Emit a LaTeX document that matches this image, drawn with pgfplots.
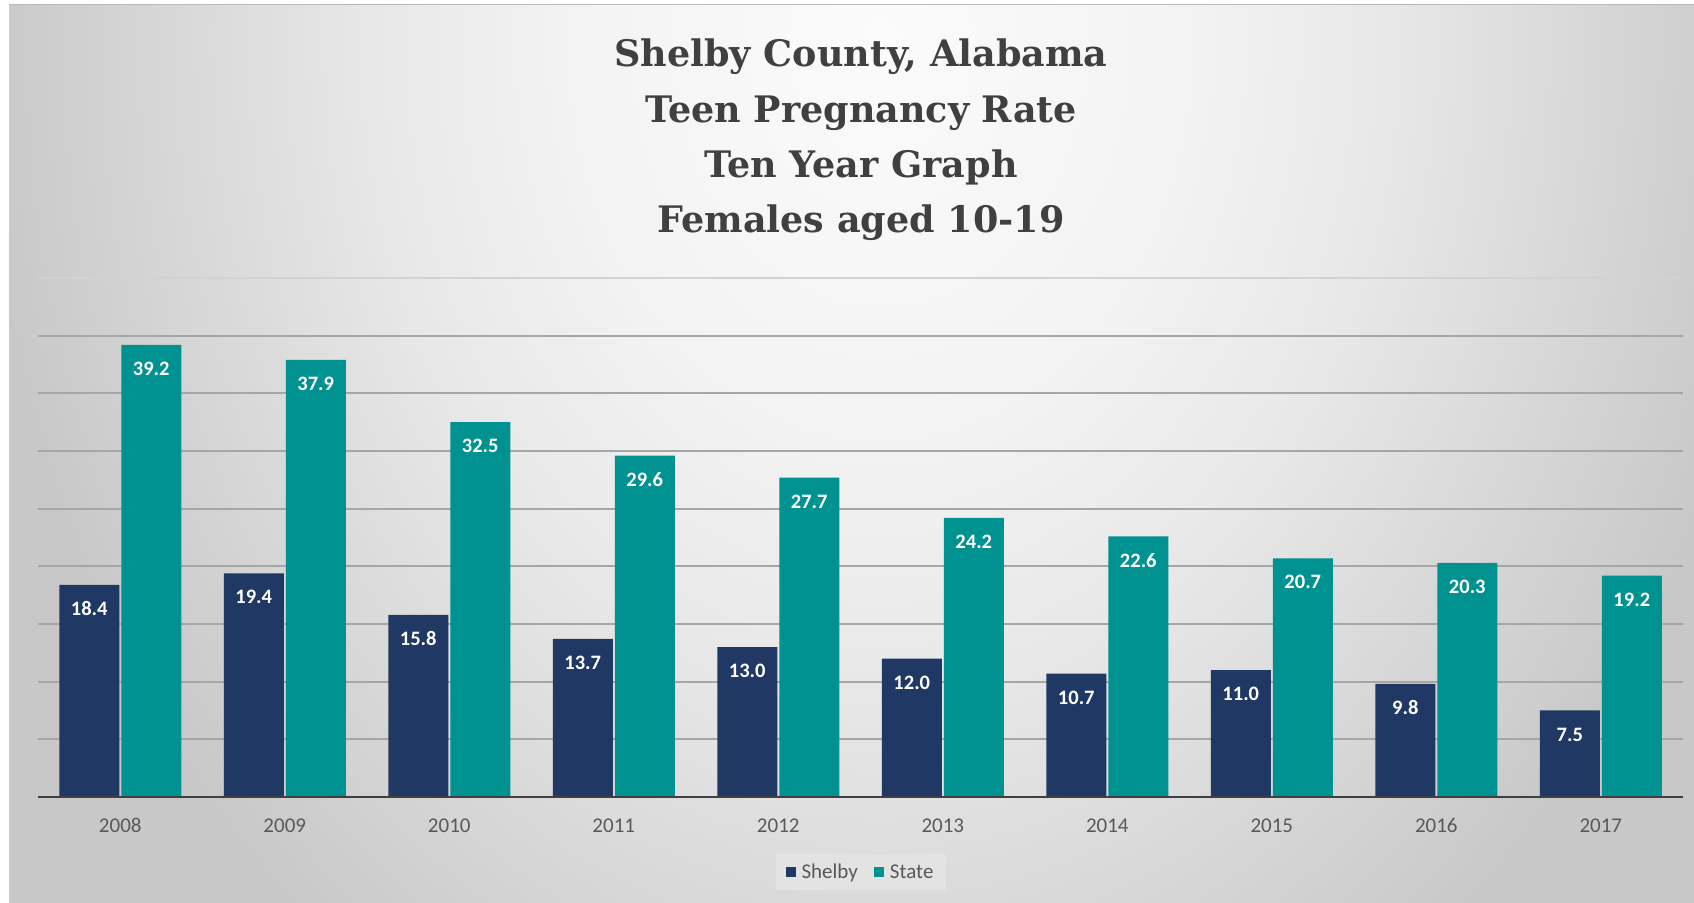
\documentclass[border=0pt]{standalone}
\usepackage{fontspec}
\setmainfont{Carlito}
\newfontfamily\titlefont{DejaVu Serif}
\usepackage{pgfplots}
\pgfplotsset{compat=1.18}

\definecolor{shelby}{HTML}{1F3864}
\definecolor{state}{HTML}{009191}
\definecolor{gridc}{HTML}{A6A6A6}
\definecolor{txt}{HTML}{595959}
\definecolor{ttl}{HTML}{404040}
\definecolor{bg0}{HTML}{FBFBFB}
\definecolor{bg1}{HTML}{F3F3F3}
\definecolor{bg2}{HTML}{E8E8E8}
\definecolor{bg3}{HTML}{C8C8C8}

% the inner 50bp square of a radial shading is fitted to the path
\pgfdeclareradialshading{bgshade}{\pgfpoint{0bp}{0bp}}{%
  color(0bp)=(bg0); color(8.5bp)=(bg1); color(14bp)=(bg2); color(25bp)=(bg3); color(50bp)=(bg3)}

\begin{document}
\begin{tikzpicture}
\begin{scope}[x=1pt,y=1pt]
  \fill[white] (0,0) rectangle (1694,902);
  \begin{scope}
    \clip (9,0) rectangle (1694,897);
    \shade[shading=bgshade] (-20,-288) rectangle (1780,2012);
  \end{scope}
  \draw[gray!55, line width=1pt] (9,897) -- (1694,897);
  % title
  \begin{scope}[every node/.style={anchor=base, text=ttl,
      font=\titlefont\bfseries\fontsize{36.5}{42}\selectfont}]
    \node at (861,835) {Shelby County, Alabama};
    \node at (861,779) {Teen Pregnancy Rate};
    \node at (861,724) {Ten Year Graph};
    \node at (861,669) {Females aged 10-19};
  \end{scope}
\end{scope}

\begin{axis}[
  at={(38pt,105pt)}, anchor=south west,
  scale only axis, width=1645pt, height=519pt,
  xmin=-0.5, xmax=9.5, ymin=0, ymax=45,
  ybar=2pt, bar width=60pt,
  axis line style={draw=none},
  xtick=data,
  xticklabels={2008,2009,2010,2011,2012,2013,2014,2015,2016,2017},
  xtick style={draw=none}, ytick style={draw=none},
  xticklabel style={anchor=center, yshift=-24pt, text=txt,
    font=\fontsize{21}{25}\selectfont},
  ytick={5,10,...,40}, yticklabel=\empty,
  extra y ticks={45}, extra y tick labels={},
  extra y tick style={grid style={gray!35, line width=1.5pt}},
  ymajorgrids, grid style={gridc, line width=1.8pt},
  nodes near coords={\pgfmathprintnumber[fixed,fixed zerofill,precision=1,assume math mode=true]{\pgfplotspointmeta}},
  every node near coord/.append style={anchor=center, yshift=-24pt,
    text=white, font=\bfseries\fontsize{20.5}{24}\selectfont},
  legend columns=2,
  legend image code/.code={\fill[#1] (0pt,-5pt) rectangle (10pt,5pt);},
  legend style={at={(0.5,-0.1445)}, anchor=center, fill=white!89!black,
    draw=none, text=txt, font=\fontsize{21}{25}\selectfont,
    inner xsep=10pt, inner ysep=8pt,
    /tikz/every odd column/.append style={column sep=4pt},
    /tikz/every even column/.append style={column sep=14pt}},
]
\addplot[fill=shelby, draw=none] coordinates {
  (0,18.4) (1,19.4) (2,15.8) (3,13.7) (4,13.0)
  (5,12.0) (6,10.7) (7,11.0) (8,9.8) (9,7.5)};
\addplot[fill=state, draw=none] coordinates {
  (0,39.2) (1,37.9) (2,32.5) (3,29.6) (4,27.7)
  (5,24.2) (6,22.6) (7,20.7) (8,20.3) (9,19.2)};
\legend{Shelby, State}
\draw[ttl, line width=3pt] (rel axis cs:0,0) -- (rel axis cs:1,0);
\end{axis}
\pgfresetboundingbox
\useasboundingbox (0,0) rectangle (1694pt,902pt);
\end{tikzpicture}
\end{document}
